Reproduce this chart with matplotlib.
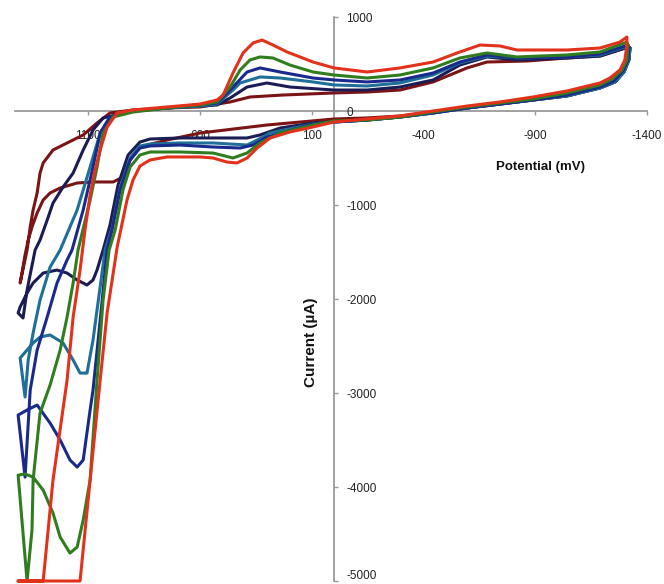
import matplotlib
matplotlib.use("Agg")
import matplotlib.pyplot as plt
import matplotlib.transforms as mtransforms

plt.rcParams['font.family'] = ['Liberation Sans', 'DejaVu Sans']
plt.rcParams['axes.unicode_minus'] = False

# potential (mV) / current (uA) for each scan, as closed loops
maroon_e = [-1324, -1319, -1297, -1257, -1190, -1042, -890, -742, -595, -443, -295, -148, 0, 300, 599, 747,
            868, 912, 944, 988, 1078, 1149, 1225, 1270, 1301, 1328, 1351, 1368, 1382, 1404,
            1373, 1359, 1346, 1328, 1315, 1301, 1257, 1194, 1122, 1060, 1002, 899, 747, 599, 465, 376,
            228, 0, -148, -295, -443, -595, -684, -863, -1042, -1190, -1315]
maroon_i = [670, 543, 415, 309, 245, 160, 117, 74, 32, -11, -53, -74, -85, -149, -234, -309,
            -383, -521, -702, -755, -755, -766, -819, -872, -947, -1085, -1234, -1373, -1532, -1830,
            -1479, -1234, -1053, -872, -660, -553, -415, -340, -255, -128, -21, 11, 32, 43, 96, 149,
            170, 192, 202, 223, 309, 458, 521, 532, 564, 585, 681]

darknavy_e = [-1324, -1319, -1297, -1257, -1190, -1042, -890, -742, -595, -443, -295, -148, 0, 94, 241, 331,
              389, 541, 689, 823, 868, 921, 966, 1002, 1033, 1060, 1078, 1105, 1149, 1194, 1239, 1301,
              1346, 1373, 1404, 1413, 1391, 1373, 1337, 1315, 1283, 1257, 1212, 1167, 1122, 1078, 1033,
              899, 747, 599, 523, 465, 389, 300, 197, 0, -148, -295, -443, -563, -684, -818, -1042,
              -1190, -1319]
darknavy_i = [670, 543, 415, 309, 245, 160, 117, 74, 32, -21, -64, -96, -117, -128, -181, -255,
              -287, -287, -287, -298, -330, -468, -787, -1213, -1479, -1692, -1798, -1851, -1798, -1724, -1692, -1724,
              -1830, -1936, -2085, -2149, -2202, -1905, -1479, -1373, -1160, -979, -809, -660, -415, -202, -74,
              0, 32, 53, 64, 138, 255, 298, 255, 223, 223, 255, 330, 489, 575, 543, 564,
              585, 681]

teal_e = [-1324, -1319, -1297, -1257, -1190, -1042, -890, -742, -595, -443, -295, -148, 0, 94, 286, 344,
          389, 541, 689, 823, 868, 912, 957, 993, 1024, 1060, 1078, 1105, 1136, 1167, 1212, 1270,
          1315, 1346, 1373, 1404, 1382, 1368, 1346, 1315, 1270, 1225, 1149, 1091, 1046, 1002,
          899, 747, 599, 523, 452, 420, 331, 241, 94, 0, -148, -295, -443, -563, -684, -818, -1042,
          -1190, -1315]
teal_i = [670, 543, 415, 309, 245, 160, 117, 74, 32, -21, -64, -96, -117, -138, -234, -309,
          -362, -340, -340, -351, -372, -500, -819, -1245, -1479, -2117, -2437, -2788, -2788, -2649, -2468, -2383,
          -2405, -2468, -2543, -2628, -3043, -2649, -2362, -2011, -1660, -1479, -1053, -596, -234, -64,
          0, 32, 53, 74, 223, 298, 362, 351, 309, 277, 266, 298, 383, 511, 585, 564, 575,
          596, 692]

navy_e = [-1319, -1315, -1292, -1252, -1190, -1042, -890, -742, -595, -443, -295, -148, 0, 94, 300, 362,
          420, 541, 689, 823, 868, 912, 957, 993, 1015, 1046, 1078, 1091, 1122, 1149, 1181, 1225,
          1270, 1328, 1373, 1413, 1382, 1359, 1328, 1283, 1239, 1194, 1172, 1122, 1078, 1046, 1002,
          899, 747, 599, 523, 452, 389, 331, 241, 94, 0, -148, -295, -443, -563, -684, -818, -1042,
          -1190, -1315]
navy_i = [681, 543, 426, 319, 255, 170, 117, 74, 32, -21, -64, -96, -117, -138, -277, -362,
          -394, -383, -362, -372, -394, -521, -841, -1266, -1479, -2224, -2969, -3181, -3713, -3788, -3713, -3500,
          -3320, -3128, -3181, -3235, -3895, -2969, -2543, -2192, -1830, -1585, -1479, -1053, -596, -234, -64,
          0, 32, 64, 85, 255, 415, 458, 415, 351, 330, 309, 330, 404, 521, 596, 564, 575,
          606, 702]

green_e = [-1315, -1310, -1288, -1243, -1190, -1042, -890, -742, -595, -443, -295, -148, 0, 94, 241, 331,
           389, 452, 541, 689, 823, 868, 912, 944, 979, 1006, 1033, 1060, 1091, 1122, 1149, 1181,
           1225, 1257, 1301, 1346, 1382, 1413, 1373, 1351, 1346, 1315, 1270, 1225, 1194, 1167, 1145,
           1091, 1060, 1033, 988, 899, 747, 599, 523, 465, 420, 376, 331, 273, 197, 94, 0, -148,
           -295, -443, -563, -684, -818, -1042, -1190, -1310]
green_i = [702, 543, 436, 340, 277, 192, 128, 85, 43, -11, -64, -96, -106, -149, -234, -340,
           -447, -500, -447, -436, -436, -468, -596, -840, -1266, -1479, -2011, -2862, -3926, -4352, -4639, -4703,
           -4533, -4277, -4033, -3895, -3862, -3874, -5000, -4458, -3926, -3213, -2915, -2543, -2192, -1830, -1479,
           -947, -596, -234, -64, -11, 32, 64, 96, 255, 436, 543, 575, 564, 489, 415, 383, 351,
           383, 458, 564, 617, 575, 596, 628, 734]

red_e = [-1310, -1301, -1279, -1234, -1190, -1042, -890, -742, -595, -443, -295, -148, 0, 94, 197, 286,
         344, 389, 434, 479, 541, 599, 747, 823, 868, 899, 926, 970, 1015, 1046, 1091, 1136,
         1413, 1301, 1257, 1194, 1167, 1136, 1114, 1091, 1069, 1046, 1015, 970, 899, 747, 599, 523,
         496, 452, 407, 362, 322, 273, 210, 152, 94, 0, -148, -295, -443, -550, -653, -742, -818,
         -1042, -1190, -1279, -1310]
red_i = [702, 543, 436, 351, 298, 213, 149, 96, 53, 0, -53, -85, -117, -170, -223, -287,
         -394, -500, -553, -543, -500, -489, -489, -521, -585, -734, -947, -1447, -2149, -2862, -3926, -5000,
         -5000, -5000, -3926, -2862, -2192, -1692, -1266, -894, -628, -415, -170, -21, 11, 43, 74, 117,
         170, 404, 617, 724, 755, 702, 628, 575, 521, 458, 415, 458, 521, 617, 702, 692, 649,
         649, 670, 734, 787]

scans = [
    (maroon_e, maroon_i, '#7b1414'),
    (darknavy_e, darknavy_i, '#1c1c55'),
    (teal_e, teal_i, '#1f6f99'),
    (navy_e, navy_i, '#1a2a8c'),
    (green_e, green_i, '#2f7d1f'),
    (red_e, red_i, '#e2321c'),
]

x_ticks = [1100, 600, 100, -400, -900, -1400]
x_labels = ['1100', '600', '100', '-400', '-900', '-1400']
y_ticks = [1000, 0, -1000, -2000, -3000, -4000, -5000]
y_labels = ['1000', '0', '-1000', '-2000', '-3000', '-4000', '-5000']

fig = plt.figure(figsize=(6.64, 5.84), dpi=100)
ax = fig.add_axes([15 / 664, 3 / 584, 632 / 664, 564 / 584])

for e, i, c in scans:
    ax.plot(e + e[:1], i + i[:1], color=c, lw=2.2, clip_on=False,
            solid_joinstyle='round', solid_capstyle='round', zorder=3)

ax.set_xlim(1427, -1400)
ax.set_ylim(-5000, 1000)

# axes cross at the origin, excel style
ax.spines['top'].set_visible(False)
ax.spines['left'].set_visible(False)
ax.spines['bottom'].set_position(('data', 0))
ax.spines['right'].set_position(('data', 0))
for s in ('bottom', 'right'):
    ax.spines[s].set_color('#9a9a9a')
    ax.spines[s].set_linewidth(1.3)
    ax.spines[s].set_zorder(1)

ax.xaxis.set_ticks_position('bottom')
ax.yaxis.set_ticks_position('right')
ax.set_xticks(x_ticks)
ax.set_xticklabels(x_labels)
ax.set_yticks(y_ticks)
ax.set_yticklabels(y_labels)
ax.tick_params(axis='x', direction='out', length=3, width=1, color='#9a9a9a',
               pad=11, labelsize=8.5, labelcolor='#222222')
ax.tick_params(axis='y', direction='out', length=3, width=1, color='#9a9a9a',
               pad=6, labelsize=8.5, labelcolor='#222222')

# nudge the bottom label up so it stays inside the picture
last = ax.get_yticklabels()[-1]
last.set_transform(last.get_transform() +
                   mtransforms.ScaledTranslation(0, 5 / 72, fig.dpi_scale_trans))

ax.patch.set_alpha(0)
fig.text(541 / 664, 1 - 167 / 584, 'Potential (mV)', ha='center', va='center',
         fontsize=9.5, fontweight='bold', color='#111111')
fig.text(311 / 664, 1 - 342 / 584, 'Current (\u00b5A)', ha='center', va='center',
         rotation=90, fontsize=11, fontweight='bold', color='#111111')

fig.savefig('out.png', dpi=100)
